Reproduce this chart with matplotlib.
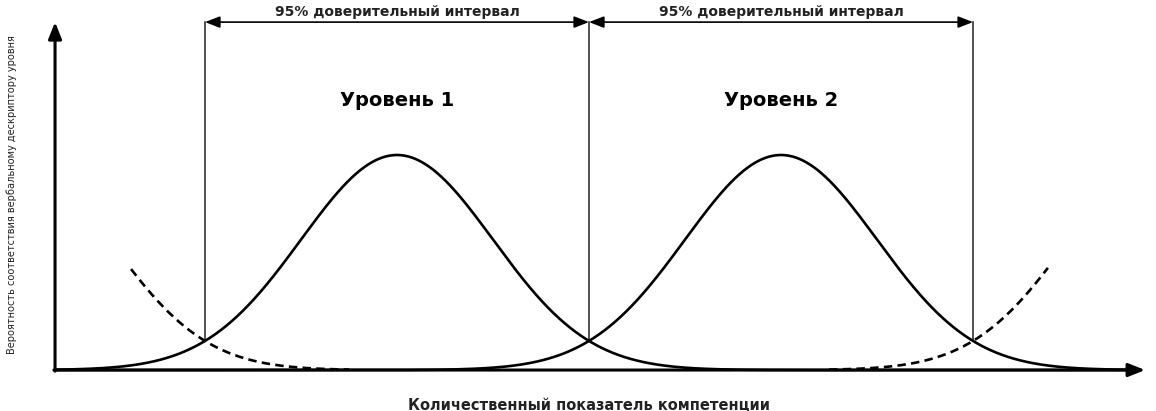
import numpy as np
import matplotlib
matplotlib.use("Agg")
import matplotlib.pyplot as plt
from matplotlib import font_manager

# ---- data ----
level_names = ["Уровень 1", "Уровень 2"]
level_means = [2.0, 4.0]          # centres of the two level curves
neighbour_means = [0.0, 6.0]      # centres of the neighbouring (dashed) levels
sigma = 0.5
interval_bounds = [1.0, 3.0, 5.0]  # 95% interval borders
interval_label = "95% доверительный интервал"
dashed_ranges = [(0.615, 1.75), (4.25, 5.39)]
xlabel = "Количественный показатель компетенции"
ylabel = "Вероятность соответствия вербальному дескриптору уровня"

x_min, x_max = -0.0677, 5.953
y_min, y_max = -0.152, 1.373
axis_origin_x = 0.219
x_arrow_end = 5.896
top_level = 1.291


def pdf(x, m):
    return np.exp(-0.5 * ((x - m) / sigma) ** 2) / (sigma * np.sqrt(2 * np.pi))


names = {f.name for f in font_manager.fontManager.ttflist}
narrow = "Liberation Sans Narrow" if "Liberation Sans Narrow" in names else "DejaVu Sans"

fig = plt.figure(figsize=(11.56, 4.11), dpi=100)
ax = fig.add_axes([0, 0, 1, 1])
ax.set_xlim(x_min, x_max)
ax.set_ylim(y_min, y_max)
ax.axis("off")

xs = np.linspace(axis_origin_x, 5.8, 1200)
for m in level_means:
    ax.plot(xs, pdf(xs, m), color="black", lw=1.9, solid_capstyle="round", zorder=3)

for m, (a, b) in zip(neighbour_means, dashed_ranges):
    xd = np.linspace(a, b, 300)
    ax.plot(xd, pdf(xd, m), color="black", lw=1.9, ls=(0, (3.2, 2.0)), zorder=3)

# vertical borders
for xb in interval_bounds:
    yb = max(pdf(xb, m) for m in level_means)
    ax.plot([xb, xb], [yb, top_level], color="#333333", lw=1.2, zorder=2)

# interval arrows
for i in range(len(interval_bounds) - 1):
    a, b = interval_bounds[i], interval_bounds[i + 1]
    ax.annotate("", xy=(b, top_level), xytext=(a, top_level),
                arrowprops=dict(arrowstyle="<|-|>,head_length=0.9,head_width=0.35",
                                color="black", lw=1.2, shrinkA=0, shrinkB=0),
                zorder=4)
    ax.text((a + b) / 2, 1.327, interval_label, ha="center", va="center",
            fontsize=10, fontweight="bold", color="#222222", family="DejaVu Sans")

for name, m in zip(level_names, level_means):
    ax.text(m, 1.0, name, ha="center", va="center", fontsize=14,
            fontweight="bold", color="black", family="DejaVu Sans")

# axes with arrows
ax.annotate("", xy=(x_arrow_end, 0), xytext=(axis_origin_x - 0.006, 0),
            arrowprops=dict(arrowstyle="-|>,head_length=1.0,head_width=0.4",
                            color="black", lw=2.2, shrinkA=0, shrinkB=0), zorder=5)
ax.annotate("", xy=(axis_origin_x, top_level), xytext=(axis_origin_x, -0.004),
            arrowprops=dict(arrowstyle="-|>,head_length=1.0,head_width=0.4",
                            color="black", lw=2.2, shrinkA=0, shrinkB=0), zorder=5)

ax.text(3.0, -0.13, xlabel, ha="center", va="center", fontsize=10.5,
        fontweight="bold", color="#222222", family="DejaVu Sans")
ax.text(-0.005, 0.65, ylabel, ha="center", va="center", rotation=90,
        fontsize=7.8, color="#222222", family=narrow, fontstretch="condensed")

fig.savefig("out.png", dpi=100)
